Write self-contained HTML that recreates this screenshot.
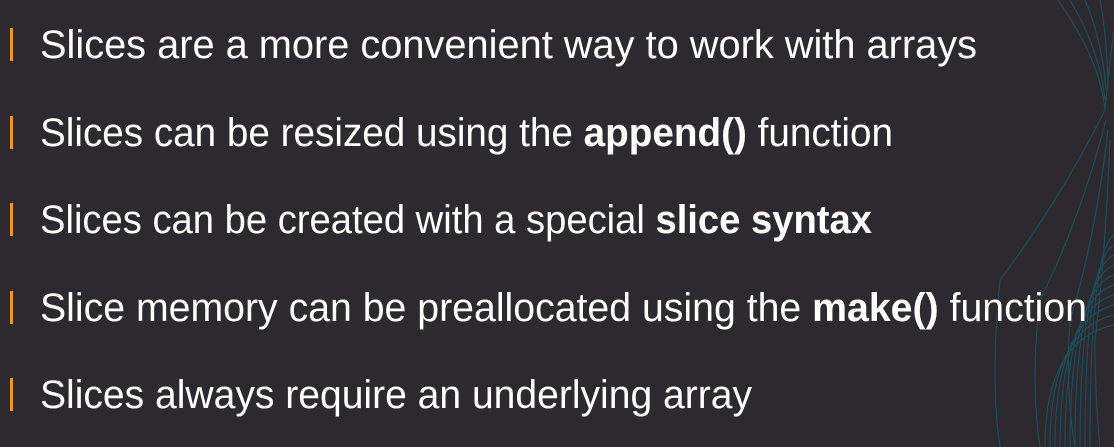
<!DOCTYPE html>
<html><head><style>
html,body{margin:0;padding:0;background:#2c2a2e;width:1114px;height:447px;overflow:hidden;}
svg{display:block}
</style></head><body>
<svg width="1114" height="447" viewBox="0 0 1114 447" xmlns="http://www.w3.org/2000/svg">
<rect width="1114" height="447" fill="#2c2a2e"/>
<g fill="none" stroke="#1d4f5c" stroke-width="1.2" opacity="0.9">
<path d="M1090 447 Q1090 250 1114 235"/>
<path d="M1085 447 Q1085 260 1114 245"/>
<path d="M1080 447 Q1080 270 1114 255"/>
<path d="M1075 447 Q1075 280 1114 265"/>
<path d="M1070 447 Q1070 290 1114 275"/>
<path d="M1065 447 Q1065 300 1114 285"/>
<path d="M1060 447 Q1060 310 1114 295"/>
<path d="M1055 447 Q1055 320 1114 305"/>
<path d="M1050 447 Q1050 330 1114 315"/>
<path d="M1045 447 Q1045 340 1114 325"/>
<path d="M1058 0 Q1100 60 1105 110 Q1110 60 1114 30"/>
<path d="M1070 0 Q1100 50 1105 100"/>
<path d="M1085 0 Q1102 40 1106 90"/>
<path d="M1100 0 Q1106 30 1108 80"/>
<path d="M1105 110 Q1060 200 1000 280 Q990 380 1000 447"/>
<path d="M1106 120 Q1080 220 1040 300 Q1030 380 1040 447"/>
<path d="M1108 130 Q1095 240 1070 320 Q1065 390 1075 447"/>
<path d="M1110 140 Q1105 260 1095 340 Q1095 400 1100 447"/>
</g>
<rect x="10" y="28" width="3" height="33" fill="#f0951e"/>
<rect x="10" y="116" width="3" height="33" fill="#f0951e"/>
<rect x="10" y="203" width="3" height="33" fill="#f0951e"/>
<rect x="10" y="291" width="3" height="33" fill="#f0951e"/>
<rect x="10" y="378" width="3" height="33" fill="#f0951e"/>
<g font-family="Liberation Sans, sans-serif" font-size="40" fill="#ffffff">
<text x="40" y="58" textLength="937" lengthAdjust="spacingAndGlyphs">Slices are a more convenient way to work with arrays</text>
<text x="40" y="146" textLength="853" lengthAdjust="spacingAndGlyphs">Slices can be resized using the <tspan font-weight="bold">append()</tspan> function</text>
<text x="40" y="233" textLength="832" lengthAdjust="spacingAndGlyphs">Slices can be created with a special <tspan font-weight="bold">slice syntax</tspan></text>
<text x="40" y="321" textLength="1047" lengthAdjust="spacingAndGlyphs">Slice memory can be preallocated using the <tspan font-weight="bold">make()</tspan> function</text>
<text x="40" y="408" textLength="712" lengthAdjust="spacingAndGlyphs">Slices always require an underlying array</text>
</g>
</svg>
</body></html>
